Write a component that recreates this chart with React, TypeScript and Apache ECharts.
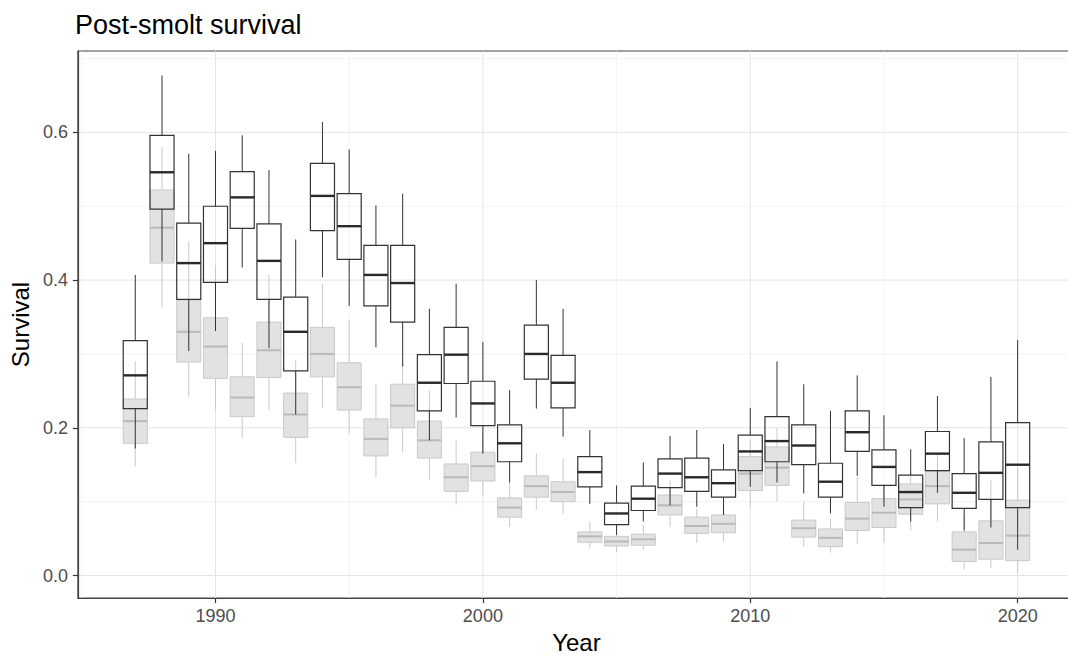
import React, { useEffect, useRef } from "react";
import * as echarts from "echarts";

const years = [1987,1988,1989,1990,1991,1992,1993,1994,1995,1996,1997,1998,1999,2000,2001,2002,2003,2004,2005,2006,2007,2008,2009,2010,2011,2012,2013,2014,2015,2016,2017,2018,2019,2020];

// Black-outlined boxes: lower whisker, Q1, median, Q3, upper whisker
const blackLow = [.172,.425,.304,.331,.417,.308,.218,.404,.365,.309,.283,.183,.214,.165,.126,.226,.188,.097,.055,.073,.095,.093,.082,.120,.126,.111,.084,.135,.093,.073,.112,.061,.065,.035];
const blackQ1 = [.226,.496,.374,.397,.470,.374,.277,.467,.428,.365,.343,.223,.260,.203,.154,.266,.227,.120,.069,.088,.119,.114,.106,.142,.154,.150,.106,.168,.122,.092,.142,.091,.103,.092];
const blackMed = [.271,.546,.423,.450,.512,.426,.330,.514,.473,.407,.396,.261,.299,.233,.179,.300,.261,.140,.084,.104,.138,.133,.125,.168,.182,.176,.127,.194,.147,.113,.165,.112,.139,.150];
const blackQ3 = [.318,.596,.477,.500,.547,.476,.377,.558,.517,.447,.447,.299,.336,.263,.204,.339,.298,.161,.098,.121,.158,.159,.143,.190,.215,.204,.152,.223,.170,.136,.195,.138,.181,.207];
const blackHigh = [.407,.677,.571,.575,.596,.549,.455,.614,.577,.501,.517,.361,.395,.316,.251,.400,.361,.197,.122,.153,.189,.197,.178,.227,.290,.259,.223,.271,.217,.171,.243,.186,.269,.319];

// Grey filled boxes
const greyLow = [.148,.363,.242,.225,.186,.224,.152,.227,.192,.133,.167,.130,.096,.109,.066,.089,.084,.037,.032,.035,.066,.044,.046,.093,.100,.039,.031,.043,.044,.061,.073,.008,.010,.003];
const greyQ1 = [.179,.423,.289,.267,.215,.268,.187,.269,.224,.162,.200,.159,.114,.128,.079,.106,.100,.045,.040,.041,.082,.057,.058,.115,.122,.052,.039,.061,.065,.083,.097,.019,.022,.020];
const greyMed = [.209,.471,.330,.310,.241,.305,.218,.300,.255,.185,.230,.183,.133,.148,.092,.121,.113,.053,.046,.049,.095,.067,.070,.138,.146,.064,.051,.077,.085,.103,.121,.035,.044,.054];
const greyQ3 = [.239,.522,.373,.349,.269,.343,.247,.336,.288,.212,.259,.209,.151,.167,.105,.135,.127,.059,.053,.056,.109,.079,.082,.161,.174,.075,.063,.099,.104,.124,.141,.059,.074,.102];
const greyHigh = [.290,.580,.452,.420,.315,.407,.292,.395,.346,.259,.290,.250,.183,.192,.126,.165,.158,.073,.060,.068,.129,.091,.093,.183,.200,.100,.077,.133,.124,.140,.165,.084,.129,.147];

const xMajor = [1990, 2000, 2010, 2020];
const xMinor = [1985, 1995, 2005, 2015];
const yMajor = [0, 0.2, 0.4, 0.6];
const yMinor = [0.1, 0.3, 0.5, 0.7];

const FONT = "'Liberation Sans', Arial, Helvetica, sans-serif";

function boxRender(style: any) {
  return (params: any, api: any) => {
    const x = api.value(0);
    const lo = api.coord([x, api.value(1)]);
    const q1 = api.coord([x, api.value(2)]);
    const med = api.coord([x, api.value(3)]);
    const q3 = api.coord([x, api.value(4)]);
    const hi = api.coord([x, api.value(5)]);
    const w = api.size([0.9, 0])[0];
    const cx = lo[0];
    const l = cx - w / 2;
    return {
      type: "group",
      children: [
        { type: "line", shape: { x1: cx, y1: hi[1], x2: cx, y2: q3[1] }, style: { stroke: style.line, lineWidth: style.whiskerWidth } },
        { type: "line", shape: { x1: cx, y1: q1[1], x2: cx, y2: lo[1] }, style: { stroke: style.line, lineWidth: style.whiskerWidth } },
        { type: "rect", shape: { x: l, y: q3[1], width: w, height: q1[1] - q3[1] }, style: { fill: style.fill, stroke: style.line, lineWidth: style.boxWidth } },
        { type: "line", shape: { x1: l, y1: med[1], x2: l + w, y2: med[1] }, style: { stroke: style.median, lineWidth: style.medianWidth } },
      ],
    };
  };
}

export default function App() {
  const ref = useRef<HTMLDivElement>(null);
  useEffect(() => {
    if (!ref.current) return;
    const chart = echarts.init(ref.current, null, { renderer: "svg" });
    const gridData: any[] = [];
    xMajor.forEach((v) => gridData.push({ value: [v, 0, 0, 1] }));
    xMinor.forEach((v) => gridData.push({ value: [v, 0, 0, 0] }));
    yMajor.forEach((v) => gridData.push({ value: [2000, v, 1, 1] }));
    yMinor.forEach((v) => gridData.push({ value: [2000, v, 1, 0] }));
    const black = years.map((y, i) => [y, blackLow[i], blackQ1[i], blackMed[i], blackQ3[i], blackHigh[i]]);
    const grey = years.map((y, i) => [y, greyLow[i], greyQ1[i], greyMed[i], greyQ3[i], greyHigh[i]]);
    const axisLine = { show: true, onZero: false, lineStyle: { color: "#444", width: 1.2 } };
    chart.setOption({
      animation: false,
      backgroundColor: "#ffffff",
      title: {
        text: "Post-smolt survival",
        left: 70,
        top: 6,
        textStyle: { fontFamily: FONT, fontSize: 27, fontWeight: "normal", color: "#000" },
      },
      grid: {
        left: 75,
        right: 15,
        top: 51,
        bottom: 57,
        show: true,
        borderColor: "#444",
        borderWidth: 1.2,
        backgroundColor: "transparent",
      },
      xAxis: {
        type: "value",
        min: 1984.855,
        max: 2022.145,
        name: "Year",
        nameLocation: "middle",
        nameGap: 31,
        nameTextStyle: { fontFamily: FONT, fontSize: 24, color: "#000" },
        splitLine: { show: false },
        axisLine,
        axisTick: { show: true, inside: false, customValues: xMajor, length: 5, lineStyle: { color: "#333", width: 1.2 } },
        axisLabel: { customValues: xMajor, fontFamily: FONT, fontSize: 18, color: "#4d4d4d", margin: 9, formatter: (v: number) => String(v) },
      },
      yAxis: {
        type: "value",
        min: -0.0306,
        max: 0.7102,
        name: "Survival",
        nameLocation: "middle",
        nameGap: 40,
        nameTextStyle: { fontFamily: FONT, fontSize: 24, color: "#000" },
        splitLine: { show: false },
        axisLine,
        axisTick: { show: true, inside: false, customValues: yMajor, length: 5, lineStyle: { color: "#333", width: 1.2 } },
        axisLabel: { customValues: yMajor, fontFamily: FONT, fontSize: 18, color: "#4d4d4d", margin: 10, formatter: (v: number) => v.toFixed(1) },
      },
      series: [
        {
          type: "custom",
          name: "gridlines",
          silent: true,
          z: 0,
          clip: true,
          data: gridData,
          renderItem: (params: any, api: any) => {
            const cs = params.coordSys;
            const dir = api.value(2);
            const major = api.value(3) === 1;
            const color = major ? "#e4e4e4" : "#f0f0f0";
            const lw = major ? 1 : 0.8;
            if (dir === 0) {
              const p = api.coord([api.value(0), 0]);
              return { type: "line", shape: { x1: p[0], y1: cs.y, x2: p[0], y2: cs.y + cs.height }, style: { stroke: color, lineWidth: lw } };
            }
            const p = api.coord([2000, api.value(1)]);
            return { type: "line", shape: { x1: cs.x, y1: p[1], x2: cs.x + cs.width, y2: p[1] }, style: { stroke: color, lineWidth: lw } };
          },
        },
        {
          type: "custom",
          name: "grey",
          z: 2,
          data: grey,
          renderItem: boxRender({ fill: "#e2e2e2", line: "#c9c9c9", median: "#b9b9b9", whiskerWidth: 1, boxWidth: 1, medianWidth: 2 }),
        },
        {
          type: "custom",
          name: "black",
          z: 3,
          data: black,
          renderItem: boxRender({ fill: "none", line: "#333333", median: "#2a2a2a", whiskerWidth: 1, boxWidth: 1.2, medianWidth: 2.4 }),
        },
      ],
    });
    return () => chart.dispose();
  }, []);
  return (
    <div
      ref={ref}
      style={{ position: "fixed", left: 0, top: 0, width: 1090, height: 659, background: "#fff" }}
    />
  );
}
